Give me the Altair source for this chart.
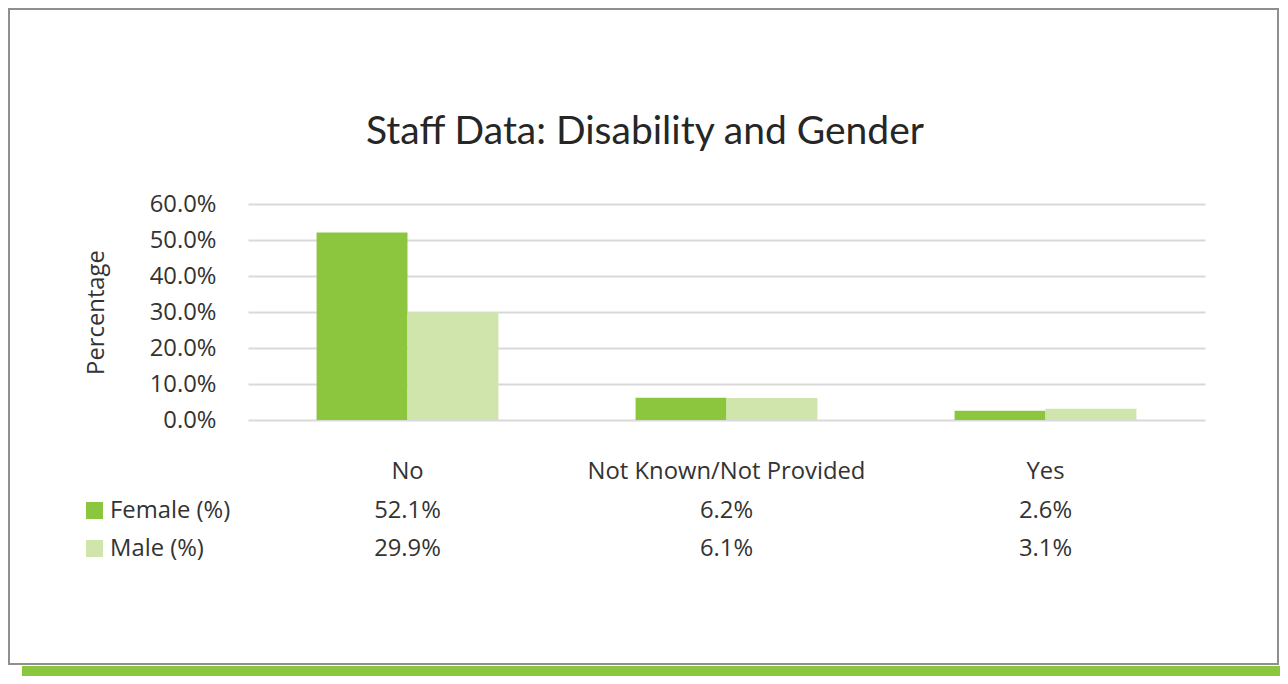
import altair as alt
import pandas as pd

# ---- data ----
title_text = "Staff Data: Disability and Gender"
y_title = "Percentage"
categories = ["No", "Not Known/Not Provided", "Yes"]
female = [52.1, 6.2, 2.6]
male = [29.9, 6.1, 3.1]
genders = ["Female (%)", "Male (%)"]
colors = ["#8cc63f", "#d0e5ab"]
y_ticks = [0, 10, 20, 30, 40, 50, 60]

rows = []
for g, vals in zip(genders, [female, male]):
    for c, v in zip(categories, vals):
        rows.append({"Category": c, "Gender": g, "Value": v})
df = pd.DataFrame(rows)
cat_df = pd.DataFrame({"Category": categories})
one = pd.DataFrame({"k": [0]})

FONT = "Open Sans"
FS = 23.8
TXT = "#333333"

x_scale = alt.Scale(domain=categories, paddingInner=0.43, paddingOuter=0.215)
color_scale = alt.Scale(domain=genders, range=colors)

base = alt.Chart(df)

bars = base.mark_bar().encode(
    x=alt.X("Category:N", scale=x_scale, sort=categories, axis=None),
    xOffset=alt.XOffset("Gender:N", sort=genders,
                        scale=alt.Scale(paddingInner=0, paddingOuter=0)),
    y=alt.Y("Value:Q", scale=alt.Scale(domain=[0, 60], nice=False),
            axis=alt.Axis(values=y_ticks, labelExpr="format(datum.value, '.1f') + '%'",
                          title=y_title, grid=True, domain=False, ticks=False,
                          labelFont=FONT, labelFontSize=FS, labelColor=TXT,
                          labelPadding=32, titleFont=FONT, titleFontSize=FS,
                          titleFontWeight="normal", titleColor=TXT, titlePadding=41,
                          gridColor="#d9d9d9", gridWidth=2)),
    color=alt.Color("Gender:N", scale=color_scale, legend=None),
)

cat_text = alt.Chart(cat_df).mark_text(
    font=FONT, fontSize=FS, color=TXT, baseline="middle", align="center"
).encode(
    x=alt.X("Category:N", scale=x_scale, sort=categories, axis=None),
    y=alt.value(268),
    text="Category:N",
)

layers = [bars, cat_text]
row_y = [307, 345]
for g, c, ry in zip(genders, colors, row_y):
    vals = base.transform_filter(alt.datum.Gender == g).transform_calculate(
        label="format(datum.Value, '.1f') + '%'"
    ).mark_text(font=FONT, fontSize=FS, color=TXT, baseline="middle", align="center").encode(
        x=alt.X("Category:N", scale=x_scale, sort=categories, axis=None),
        y=alt.value(ry),
        text="label:N",
    )
    sq = alt.Chart(pd.DataFrame({"Gender": [g]})).mark_rect(color=c).encode(
        x=alt.value(-162), x2=alt.value(-145),
        y=alt.value(ry - 9), y2=alt.value(ry + 8),
    )
    lab = alt.Chart(pd.DataFrame({"Gender": [g]})).mark_text(
        font=FONT, fontSize=FS, color=TXT, baseline="middle", align="left"
    ).encode(
        x=alt.value(-138), y=alt.value(ry), text="Gender:N",
    )
    layers += [vals, sq, lab]

title = alt.Chart(one).mark_text(
    font="Lato", fontSize=39, color="#262626", baseline="middle", align="center"
).encode(x=alt.value(397), y=alt.value(-72), text=alt.value(title_text))

border = alt.Chart(one).mark_rect(
    fill="transparent", stroke="#8f8f8f", strokeWidth=2
).encode(x=alt.value(-239), x2=alt.value(1030), y=alt.value(-195), y2=alt.value(460))

strip = alt.Chart(one).mark_rect(color="#8cc63f").encode(
    x=alt.value(-226), x2=alt.value(1032), y=alt.value(462), y2=alt.value(472)
)

chart = alt.layer(border, strip, title, *layers).properties(
    width=957, height=216,
    autosize=alt.AutoSizeParams(type="none"),
    padding={"left": 240, "top": 196, "right": 75, "bottom": 256},
).configure(background="white").configure_view(strokeWidth=0, stroke="transparent")

chart.save("out.html", embed_options={"renderer": "svg", "actions": False})
